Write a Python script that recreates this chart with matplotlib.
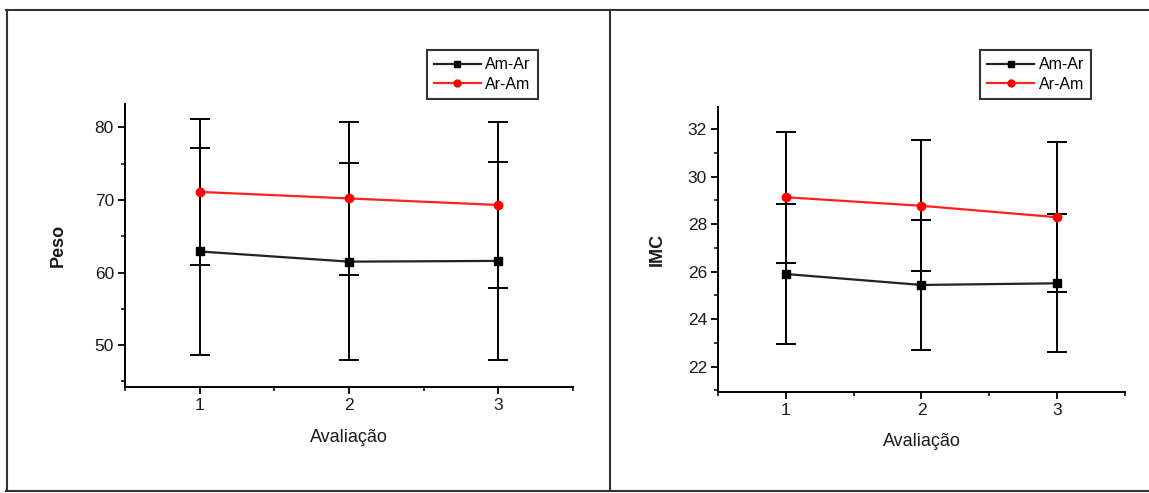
import matplotlib.pyplot as plt
from matplotlib.lines import Line2D
from matplotlib.ticker import MultipleLocator

plt.rcParams['font.family'] = ['Liberation Sans', 'DejaVu Sans']

avaliacao = [1, 2, 3]
series_names = ["Am-Ar", "Ar-Am"]

# Peso (mean and SD per evaluation)
peso_am_ar = [62.9, 61.5, 61.6]
peso_am_ar_sd = [14.2, 13.6, 13.6]
peso_ar_am = [71.1, 70.2, 69.3]
peso_ar_am_sd = [10.0, 10.5, 11.4]

# IMC (mean and SD per evaluation)
imc_am_ar = [25.9, 25.44, 25.51]
imc_am_ar_sd = [2.95, 2.75, 2.9]
imc_ar_am = [29.13, 28.77, 28.29]
imc_ar_am_sd = [2.75, 2.75, 3.15]

fig = plt.figure(figsize=(11.49, 4.93), dpi=100)


def draw_panel(rect, black, black_sd, red, red_sd, ylabel, ylim, major, minor,
               leg_anchor, ylabelpad):
    ax = fig.add_axes(rect)
    ax.errorbar(avaliacao, black, yerr=black_sd, fmt='none', ecolor='black',
                elinewidth=1.4, capsize=7, capthick=1.4, zorder=2)
    ax.errorbar(avaliacao, red, yerr=red_sd, fmt='none', ecolor='black',
                elinewidth=1.4, capsize=7, capthick=1.4, zorder=2)
    ax.plot(avaliacao, black, color='#222222', lw=1.6, marker='s', ms=6,
            mfc='black', mec='black', label=series_names[0], zorder=3)
    ax.plot(avaliacao, red, color='#ff2020', lw=1.6, marker='o', ms=6,
            mfc='red', mec='red', label=series_names[1], zorder=3)

    ax.set_xlim(0.5, 3.5)
    ax.set_ylim(*ylim)
    ax.xaxis.set_major_locator(MultipleLocator(1))
    ax.xaxis.set_minor_locator(MultipleLocator(0.5))
    ax.yaxis.set_major_locator(MultipleLocator(major))
    ax.yaxis.set_minor_locator(MultipleLocator(minor))
    ax.spines['top'].set_visible(False)
    ax.spines['right'].set_visible(False)
    for s in ('left', 'bottom'):
        ax.spines[s].set_linewidth(1.4)
    ax.tick_params(which='major', direction='out', length=5, width=1.3,
                   labelsize=12.5, pad=3, labelcolor='#1a1a1a')
    ax.tick_params(which='minor', direction='out', length=3, width=1.1)
    ax.set_xlabel("Avaliação", fontsize=13, labelpad=11, color='#1a1a1a')
    ax.set_ylabel(ylabel, fontsize=13, labelpad=ylabelpad, fontweight='bold',
                  color='#1a1a1a')

    leg = ax.legend(loc='upper right', bbox_to_anchor=leg_anchor,
                    bbox_transform=fig.transFigure, fontsize=11.5, frameon=True,
                    fancybox=False, edgecolor='black', handlelength=2.9,
                    handletextpad=0.3, borderpad=0.45, labelspacing=0.3,
                    borderaxespad=0)
    leg.get_frame().set_linewidth(1.5)
    for h in leg.legend_handles:
        h.set_markersize(5)
    return ax


draw_panel([0.1088, 0.2144, 0.3899, 0.5746], peso_am_ar, peso_am_ar_sd,
           peso_ar_am, peso_ar_am_sd, "Peso", (44.2, 83.2), 10, 5,
           (0.468, 0.8986), 20)
draw_panel([0.6249, 0.2055, 0.3542, 0.5781], imc_am_ar, imc_am_ar_sd,
           imc_ar_am, imc_ar_am_sd, "IMC", (20.95, 32.94), 2, 1,
           (0.9495, 0.8986), 16)

# panel frame lines
frame_kw = dict(color='#333333', lw=1.5, transform=fig.transFigure)
fig.add_artist(Line2D([6 / 1149, 1], [1 - 10 / 493, 1 - 10 / 493], **frame_kw))
fig.add_artist(Line2D([6 / 1149, 1], [1 - 491 / 493, 1 - 491 / 493], **frame_kw))
fig.add_artist(Line2D([7 / 1149, 7 / 1149], [1 - 10 / 493, 1 - 491 / 493], **frame_kw))
fig.add_artist(Line2D([610 / 1149, 610 / 1149], [1 - 10 / 493, 1 - 491 / 493], **frame_kw))

fig.savefig("out.png", dpi=100)
